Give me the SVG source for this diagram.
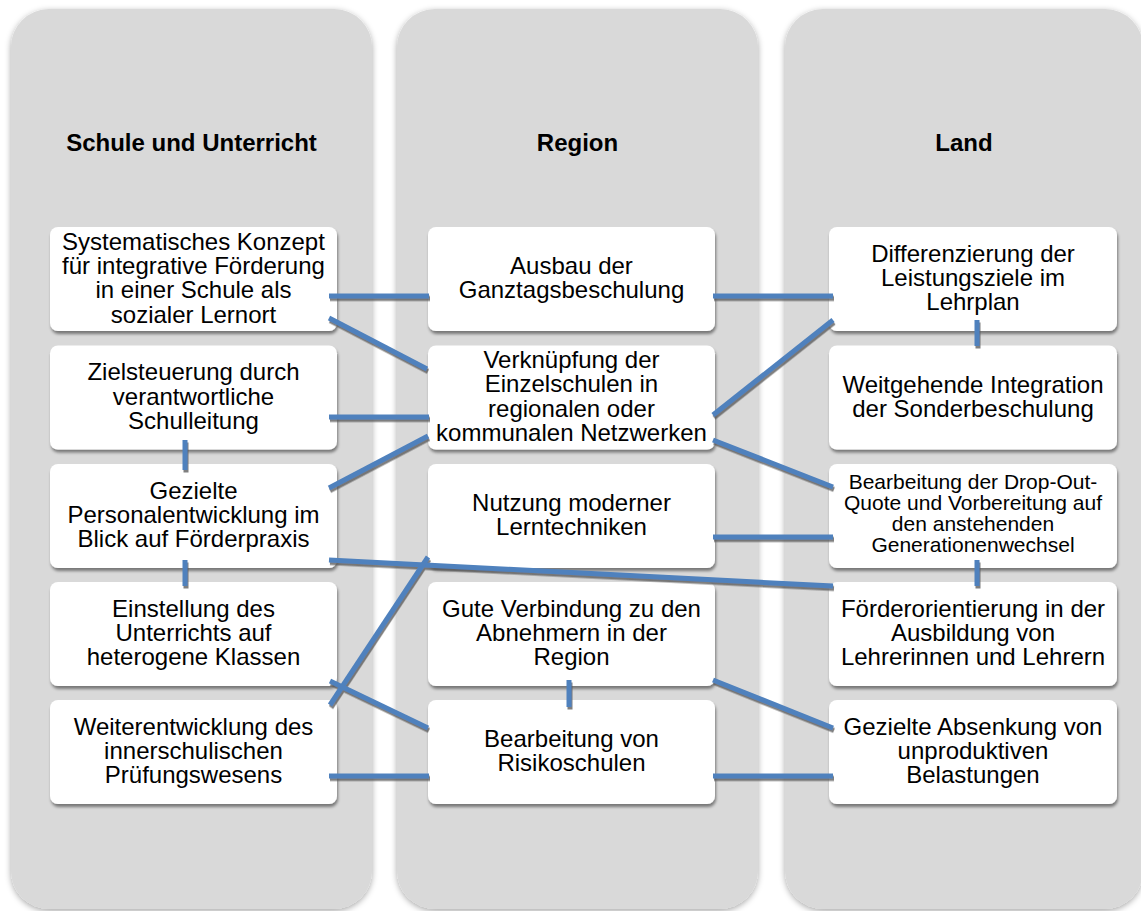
<svg xmlns="http://www.w3.org/2000/svg" width="1141" height="911" viewBox="0 0 1141 911">
  <defs>
    <filter id="colShadow" x="-10%" y="-10%" width="120%" height="120%">
      <feDropShadow dx="0" dy="2" stdDeviation="3" flood-color="#000" flood-opacity="0.35"/>
    </filter>
    <filter id="boxShadow" x="-10%" y="-10%" width="120%" height="130%">
      <feDropShadow dx="1" dy="3" stdDeviation="1.8" flood-color="#000" flood-opacity="0.45"/>
    </filter>
    <filter id="lineShadow" x="-10%" y="-10%" width="120%" height="120%">
      <feDropShadow dx="1" dy="2.5" stdDeviation="0.5" flood-color="#555" flood-opacity="0.75"/>
    </filter>
  </defs>
  <style>
    .col { fill: #d9d9d9; filter: url(#colShadow); }
    .box { fill: #ffffff; filter: url(#boxShadow); }
    .hdr { font-family: "Liberation Sans", Arial, sans-serif; font-size: 24px; font-weight: bold; fill: #000; text-anchor: middle; }
    .t { font-family: "Liberation Sans", Arial, sans-serif; font-size: 24px; fill: #000; text-anchor: middle; }
    .ts { font-family: "Liberation Sans", Arial, sans-serif; font-size: 21px; fill: #000; text-anchor: middle; }
    .c line { stroke: #4f81bd; stroke-width: 5; }
  </style>

  <!-- column backgrounds -->
  <g id="columns">
    <rect class="col" x="11" y="9" width="361" height="900" rx="38" ry="38"/>
    <rect class="col" x="397" y="9" width="361" height="900" rx="38" ry="38"/>
    <rect class="col" x="785" y="9" width="358" height="900" rx="38" ry="38"/>
  </g>

  <!-- column headings -->
  <g id="headers">
    <text class="hdr" x="191.5" y="151">Schule und Unterricht</text>
    <text class="hdr" x="577.5" y="151">Region</text>
    <text class="hdr" x="964" y="151">Land</text>
  </g>

  <!-- left column: Schule und Unterricht -->
  <g id="s1">
    <rect class="box" x="50" y="227" width="287" height="104" rx="8"/>
    <text class="t"><tspan x="193.5" y="250">Systematisches Konzept</tspan><tspan x="193.5" y="274">für integrative Förderung</tspan><tspan x="193.5" y="298">in einer Schule als</tspan><tspan x="193.5" y="322.5">sozialer Lernort</tspan></text>
  </g>
  <g id="s2">
    <rect class="box" x="50" y="345.5" width="287" height="104" rx="8"/>
    <text class="t"><tspan x="193.5" y="380">Zielsteuerung durch</tspan><tspan x="193.5" y="404.5">verantwortliche</tspan><tspan x="193.5" y="429">Schulleitung</tspan></text>
  </g>
  <g id="s3">
    <rect class="box" x="50" y="464" width="287" height="104" rx="8"/>
    <text class="t"><tspan x="193.5" y="498.7">Gezielte</tspan><tspan x="193.5" y="523">Personalentwicklung im</tspan><tspan x="193.5" y="547.3">Blick auf Förderpraxis</tspan></text>
  </g>
  <g id="s4">
    <rect class="box" x="50" y="582" width="287" height="104" rx="8"/>
    <text class="t"><tspan x="193.5" y="616.7">Einstellung des</tspan><tspan x="193.5" y="641">Unterrichts auf</tspan><tspan x="193.5" y="665.3">heterogene Klassen</tspan></text>
  </g>
  <g id="s5">
    <rect class="box" x="50" y="700" width="287" height="104" rx="8"/>
    <text class="t"><tspan x="193.5" y="734.7">Weiterentwicklung des</tspan><tspan x="193.5" y="759">innerschulischen</tspan><tspan x="193.5" y="783.3">Prüfungswesens</tspan></text>
  </g>

  <!-- middle column: Region -->
  <g id="r1">
    <rect class="box" x="428" y="227" width="287" height="104" rx="8"/>
    <text class="t"><tspan x="571.5" y="273.9">Ausbau der</tspan><tspan x="571.5" y="298.2">Ganztagsbeschulung</tspan></text>
  </g>
  <g id="r2">
    <rect class="box" x="428" y="345.5" width="287" height="104" rx="8"/>
    <text class="t"><tspan x="571.5" y="368">Verknüpfung der</tspan><tspan x="571.5" y="392.4">Einzelschulen in</tspan><tspan x="571.5" y="416.7">regionalen oder</tspan><tspan x="571.5" y="441">kommunalen Netzwerken</tspan></text>
  </g>
  <g id="r3">
    <rect class="box" x="428" y="464" width="287" height="104" rx="8"/>
    <text class="t"><tspan x="571.5" y="510.5">Nutzung moderner</tspan><tspan x="571.5" y="534.8">Lerntechniken</tspan></text>
  </g>
  <g id="r4">
    <rect class="box" x="428" y="582" width="287" height="104" rx="8"/>
    <text class="t"><tspan x="571.5" y="616.7">Gute Verbindung zu den</tspan><tspan x="571.5" y="641">Abnehmern in der</tspan><tspan x="571.5" y="665.3">Region</tspan></text>
  </g>
  <g id="r5">
    <rect class="box" x="428" y="700" width="287" height="104" rx="8"/>
    <text class="t"><tspan x="571.5" y="746.9">Bearbeitung von</tspan><tspan x="571.5" y="771.2">Risikoschulen</tspan></text>
  </g>

  <!-- right column: Land -->
  <g id="l1">
    <rect class="box" x="829" y="227" width="288" height="104" rx="8"/>
    <text class="t"><tspan x="973" y="261.7">Differenzierung der</tspan><tspan x="973" y="286">Leistungsziele im</tspan><tspan x="973" y="310.3">Lehrplan</tspan></text>
  </g>
  <g id="l2">
    <rect class="box" x="829" y="345.5" width="288" height="104" rx="8"/>
    <text class="t"><tspan x="973" y="392.8">Weitgehende Integration</tspan><tspan x="973" y="416.6">der Sonderbeschulung</tspan></text>
  </g>
  <g id="l3">
    <rect class="box" x="829" y="464" width="288" height="104" rx="8"/>
    <text class="ts"><tspan x="973" y="489">Bearbeitung der Drop-Out-</tspan><tspan x="973" y="510">Quote und Vorbereitung auf</tspan><tspan x="973" y="531">den anstehenden</tspan><tspan x="973" y="552">Generationenwechsel</tspan></text>
  </g>
  <g id="l4">
    <rect class="box" x="829" y="582" width="288" height="104" rx="8"/>
    <text class="t"><tspan x="973" y="616.7">Förderorientierung in der</tspan><tspan x="973" y="641">Ausbildung von</tspan><tspan x="973" y="665.3">Lehrerinnen und Lehrern</tspan></text>
  </g>
  <g id="l5">
    <rect class="box" x="829" y="700" width="288" height="104" rx="8"/>
    <text class="t"><tspan x="973" y="734.7">Gezielte Absenkung von</tspan><tspan x="973" y="759">unproduktiven</tspan><tspan x="973" y="783.3">Belastungen</tspan></text>
  </g>

  <!-- connectors -->
  <g id="connectors" class="c" filter="url(#lineShadow)">
    <line x1="329" y1="296" x2="429" y2="296"/>
    <line x1="329" y1="318" x2="427" y2="369"/>
    <line x1="329" y1="417" x2="429" y2="417"/>
    <line x1="329" y1="488" x2="428" y2="436"/>
    <line x1="185" y1="440" x2="185" y2="470"/>
    <line x1="329" y1="560" x2="833" y2="586"/>
    <line x1="713" y1="296" x2="833" y2="296"/>
    <line x1="713" y1="415" x2="833" y2="320"/>
    <line x1="713" y1="440" x2="833" y2="487"/>
    <line x1="977" y1="320" x2="977" y2="346"/>
    <line x1="713" y1="537" x2="833" y2="537"/>
    <line x1="977" y1="560" x2="977" y2="586"/>
    <line x1="185" y1="560" x2="185" y2="586"/>
    <line x1="330" y1="705" x2="428" y2="557"/>
    <line x1="330" y1="681" x2="428" y2="728"/>
    <line x1="329" y1="776" x2="429" y2="776"/>
    <line x1="569" y1="680" x2="569" y2="707"/>
    <line x1="713" y1="680" x2="833" y2="728"/>
    <line x1="713" y1="776" x2="833" y2="776"/>
  </g>
</svg>
